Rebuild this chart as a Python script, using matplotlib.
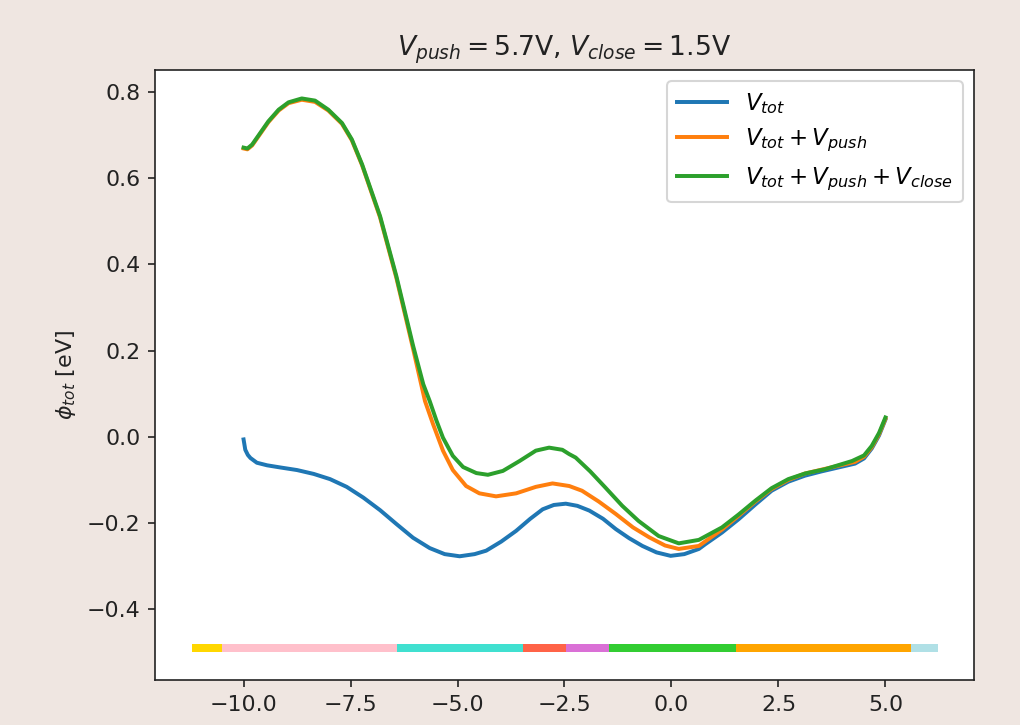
import matplotlib
matplotlib.use("Agg")
import matplotlib.pyplot as plt

# ---- data ----
x_tot = [-10.0, -9.96, -9.90, -9.84, -9.69, -9.45, -9.14, -8.75, -8.36, -7.98, -7.59, -7.20,
         -6.81, -6.43, -6.04, -5.65, -5.30, -4.95, -4.60, -4.33, -3.98, -3.63, -3.30, -3.01,
         -2.75, -2.47, -2.20, -1.92, -1.60, -1.30, -0.99, -0.68, -0.35, -0.02, 0.30, 0.64,
         0.79, 1.18, 1.57, 1.96, 2.34, 2.73, 3.12, 3.51, 3.90, 4.29, 4.50, 4.68, 4.85, 5.0]
v_tot = [-0.006, -0.030, -0.042, -0.049, -0.060, -0.066, -0.071, -0.077, -0.086, -0.098, -0.116,
         -0.141, -0.170, -0.202, -0.234, -0.258, -0.272, -0.277, -0.272, -0.264, -0.243, -0.218,
         -0.190, -0.168, -0.158, -0.155, -0.160, -0.171, -0.190, -0.214, -0.235, -0.253, -0.268,
         -0.276, -0.272, -0.260, -0.249, -0.222, -0.191, -0.157, -0.125, -0.104, -0.090, -0.080,
         -0.071, -0.062, -0.050, -0.027, 0.003, 0.040]

x_push = [-10.0, -9.91, -9.80, -9.61, -9.42, -9.18, -8.95, -8.64, -8.33, -8.02, -7.70, -7.47,
          -7.23, -6.81, -6.43, -6.04, -5.76, -5.57, -5.34, -5.11, -4.80, -4.49, -4.10, -3.63,
          -3.17, -2.78, -2.39, -2.09, -1.70, -1.30, -0.90, -0.52, -0.15, 0.17, 0.64, 1.18,
          1.57, 1.96, 2.34, 2.73, 3.12, 3.51, 3.90, 4.29, 4.50, 4.68, 4.85, 5.0]
v_push = [0.669, 0.667, 0.676, 0.703, 0.730, 0.757, 0.774, 0.782, 0.777, 0.757, 0.726, 0.688,
          0.630, 0.509, 0.369, 0.205, 0.083, 0.029, -0.032, -0.077, -0.114, -0.131, -0.138,
          -0.131, -0.116, -0.108, -0.114, -0.125, -0.150, -0.179, -0.210, -0.233, -0.252,
          -0.260, -0.253, -0.215, -0.183, -0.150, -0.121, -0.100, -0.085, -0.076, -0.067,
          -0.058, -0.046, -0.024, 0.006, 0.042]

x_close = [-10.0, -9.91, -9.80, -9.61, -9.42, -9.18, -8.95, -8.64, -8.33, -8.02, -7.70, -7.47,
           -7.23, -6.81, -6.43, -6.04, -5.80, -5.65, -5.49, -5.34, -5.11, -4.87, -4.56, -4.29,
           -3.94, -3.55, -3.17, -2.86, -2.55, -2.39, -2.24, -1.90, -1.55, -1.15, -0.77, -0.30,
           0.17, 0.64, 1.18, 1.57, 1.96, 2.34, 2.73, 3.12, 3.59, 4.22, 4.50, 4.68, 4.85, 5.0]
v_close = [0.671, 0.669, 0.678, 0.705, 0.732, 0.759, 0.776, 0.785, 0.780, 0.759, 0.728, 0.690,
           0.632, 0.512, 0.373, 0.212, 0.122, 0.083, 0.037, -0.002, -0.044, -0.070, -0.084,
           -0.088, -0.079, -0.056, -0.032, -0.025, -0.030, -0.040, -0.048, -0.080, -0.117,
           -0.160, -0.195, -0.230, -0.247, -0.239, -0.210, -0.180, -0.148, -0.119, -0.098,
           -0.085, -0.075, -0.056, -0.043, -0.021, 0.009, 0.045]

region_edges = [-11.2, -10.5, -6.42, -3.46, -2.46, -1.46, 1.51, 5.59, 6.23]
region_colors = ["gold", "pink", "turquoise", "tomato", "orchid", "limegreen", "orange", "powderblue"]
bar_low, bar_high = -0.5, -0.48

labels = [r"$V_{tot}$", r"$V_{tot} + V_{push}$", r"$V_{tot} + V_{push} + V_{close}$"]
title = r"$V_{push} = 5.7$V, $V_{close} = 1.5$V"
ylabel = r"$\phi_{tot}$ [eV]"

# ---- figure ----
bg = "#efe6e1"
dark = "#222222"
fig = plt.figure(figsize=(6.8, 725 / 150), dpi=150, facecolor=bg)
ax = fig.add_axes([155 / 1020, 1 - 680 / 725, 819 / 1020, 610 / 725])

ax.plot(x_tot, v_tot, color="#1f77b4", lw=1.9, label=labels[0])
ax.plot(x_push, v_push, color="#ff7f0e", lw=1.9, label=labels[1])
ax.plot(x_close, v_close, color="#2ca02c", lw=1.9, label=labels[2])

for i, c in enumerate(region_colors):
    ax.fill_between([region_edges[i], region_edges[i + 1]], bar_low, bar_high, color=c, lw=0)

ax.set_xlim(-12.07, 7.07)
ax.set_ylim(-0.564, 0.851)
ax.set_xticks([-10, -7.5, -5, -2.5, 0, 2.5, 5])
ax.set_yticks([-0.4, -0.2, 0.0, 0.2, 0.4, 0.6, 0.8])
ax.tick_params(labelsize=10.6, colors=dark)
for s in ax.spines.values():
    s.set_color(dark)
ax.set_ylabel(ylabel, fontsize=10.6, color=dark)
ax.set_title(title, fontsize=12.8, color=dark, pad=7)
ax.legend(loc="upper right", fontsize=11, handlelength=2.2)

fig.savefig("out.png", dpi=150, facecolor=bg)
